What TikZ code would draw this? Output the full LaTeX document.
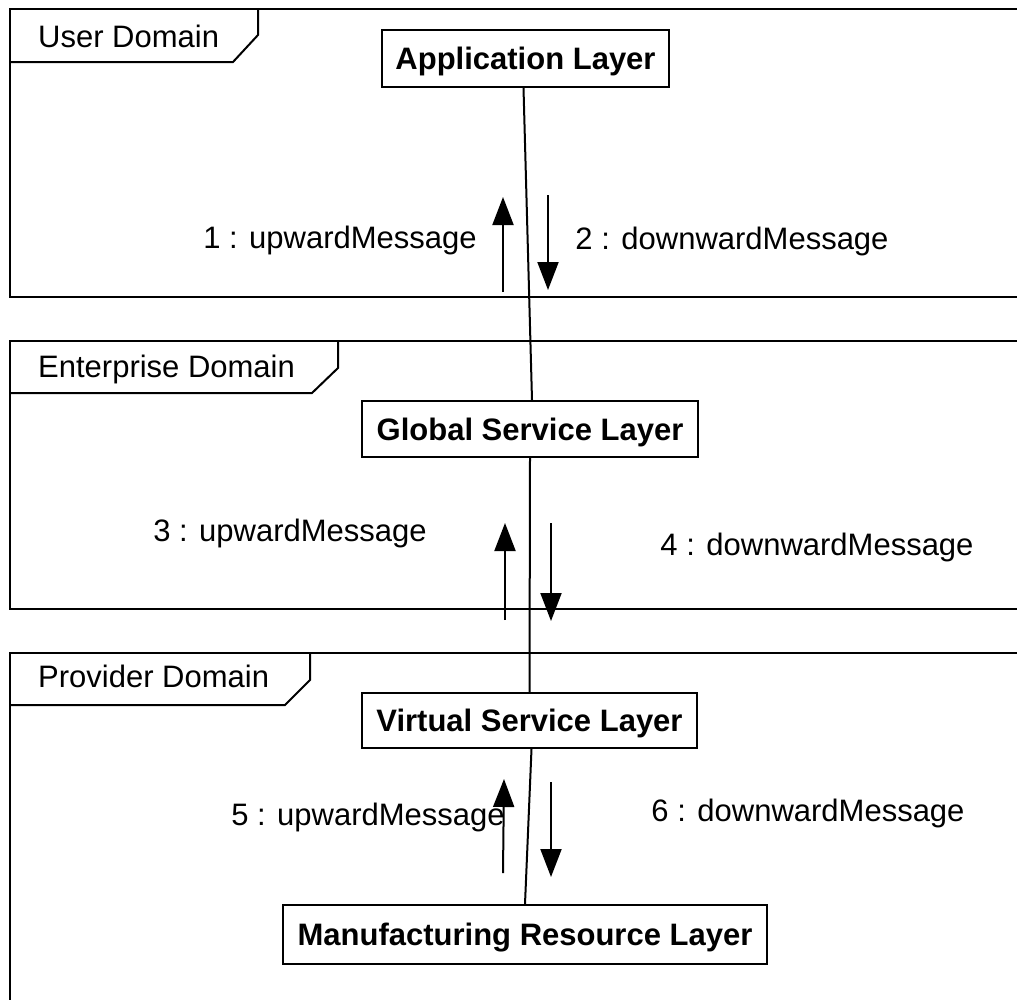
\documentclass[tikz,border=0pt]{standalone}
\usepackage{fontspec}
\setmainfont{Liberation Sans}
\usetikzlibrary{arrows.meta}
\begin{document}
\begin{tikzpicture}[x=1pt,y=-1pt,
  every node/.style={font=\fontsize{31}{36}\selectfont},
  frameline/.style={line width=2pt},
  layerbox/.style={draw,line width=2pt,inner sep=0pt,
    font=\fontsize{31}{36}\selectfont\bfseries,
    text height=22pt,text depth=0pt},
  lifeline/.style={line width=2pt},
  msg/.style={line width=2pt,-{Triangle[width=21pt,length=28pt]}},
  framelabel/.style={anchor=base west,inner sep=0pt},
  msglabel/.style={anchor=base,inner sep=0pt}]
\useasboundingbox (0,0) rectangle (1017,999);
\clip (0,0) rectangle (1017,999);

% domain frames, open on the right
\draw[frameline] (1030,9) -- (10,9) -- (10,297) -- (1030,297);
\draw[frameline] (10,62) -- (233,62) -- (258,35) -- (258,9);
\node[framelabel] (ud) at (38,47) {User Domain};

\draw[frameline] (1030,341) -- (10,341) -- (10,609) -- (1030,609);
\draw[frameline] (10,393) -- (312,393) -- (338,368) -- (338,341);
\node[framelabel] (ed) at (38,377) {Enterprise Domain};

\draw[frameline] (1030,653) -- (10,653) -- (10,1010);
\draw[frameline] (10,705) -- (285,705) -- (310,680) -- (310,653);
\node[framelabel] (pd) at (38,687) {Provider Domain};

% layers
\node[layerbox,minimum width=287pt,minimum height=57pt] (app) at (525.5,58.5) {Application Layer};
\node[layerbox,minimum width=336pt,minimum height=56pt] (gsl) at (530,429) {Global Service Layer};
\node[layerbox,minimum width=335pt,minimum height=55pt] (vsl) at (529.5,720.5) {Virtual Service Layer};
\node[layerbox,minimum width=484pt,minimum height=59pt] (mrl) at (525,934.5) {Manufacturing Resource Layer};

% lifelines between layers
\draw[lifeline] ([xshift=-2pt]app.south) -- ([xshift=2pt]gsl.north);
\draw[lifeline] (gsl.south) -- (vsl.south |- vsl.north);
\draw[lifeline] ([xshift=2pt]vsl.south) -- (mrl.north);

% message arrows
\coordinate (u1s) at (503,292); \coordinate (u1e) at (503,197);
\coordinate (d2s) at (548,195); \coordinate (d2e) at (548,290);
\coordinate (u3s) at (505,620); \coordinate (u3e) at (505,523);
\coordinate (d4s) at (551,523); \coordinate (d4e) at (551,621);
\coordinate (u5s) at (503,873); \coordinate (u5e) at (504,779);
\coordinate (d6s) at (551,782); \coordinate (d6e) at (551,877);
\draw[msg] (u1s) -- (u1e);
\draw[msg] (d2s) -- (d2e);
\draw[msg] (u3s) -- (u3e);
\draw[msg] (d4s) -- (d4e);
\draw[msg] (u5s) -- (u5e);
\draw[msg] (d6s) -- (d6e);

% message labels
\node[msglabel] (m1) at (340,248) {1 : upwardMessage};
\node[msglabel] (m2) at (732,249) {2 : downwardMessage};
\node[msglabel] (m3) at (290,541) {3 : upwardMessage};
\node[msglabel] (m4) at (817,555) {4 : downwardMessage};
\node[msglabel] (m5) at (368,825) {5 : upwardMessage};
\node[msglabel] (m6) at (808,821) {6 : downwardMessage};
\end{tikzpicture}
\end{document}
